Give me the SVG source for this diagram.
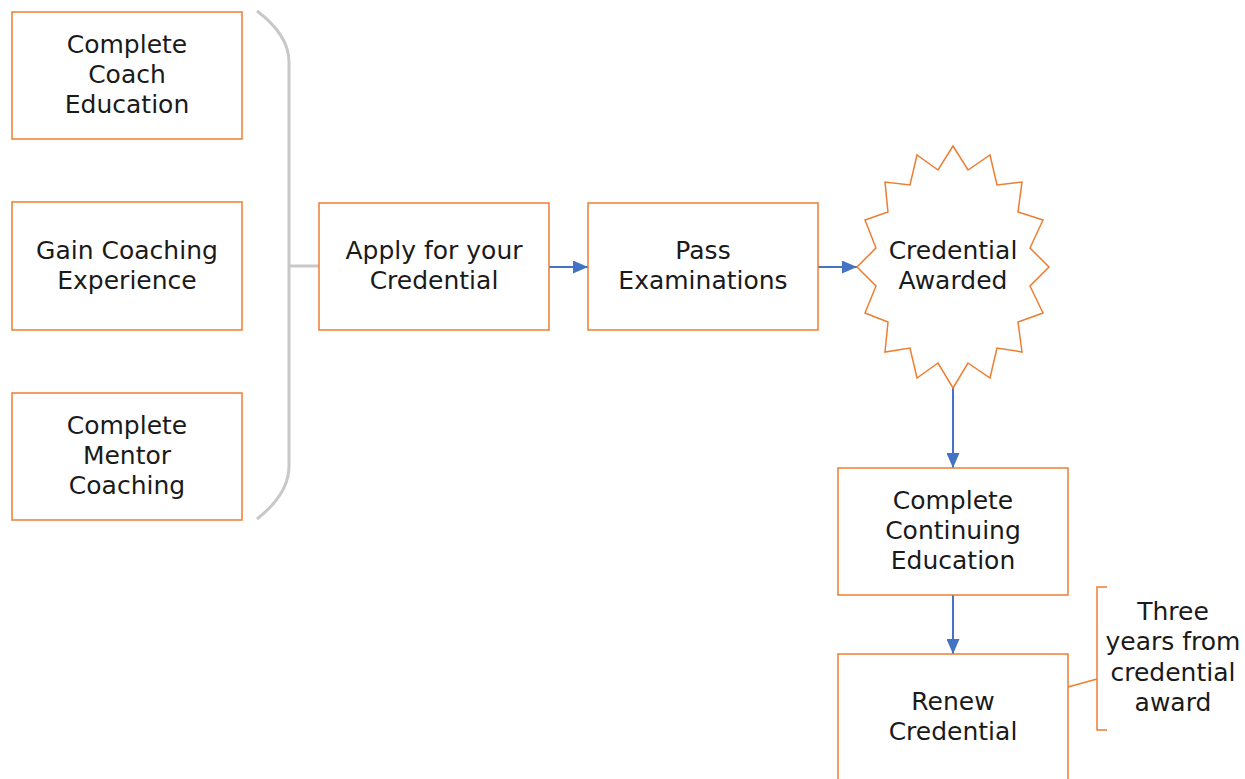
<svg xmlns="http://www.w3.org/2000/svg" width="1245" height="779" viewBox="0 0 1245 779">
<style>
.box{fill:#fff;stroke:#ED7D31;stroke-width:1.5}
.t{font-family:"DejaVu Sans","Noto Sans",sans-serif;font-size:25px;fill:#1a1a1a;text-anchor:middle}
.con{fill:none;stroke:#4472C4;stroke-width:2}
.brace{fill:none;stroke:#C8C8C8;stroke-width:3}
.call{fill:none;stroke:#ED7D31;stroke-width:1.5}
</style>
<defs>
<marker id="ah" viewBox="0 0 15 13" refX="15" refY="6.5" markerWidth="7.5" markerHeight="6.5" orient="auto" markerUnits="strokeWidth">
<path d="M0,0 L15,6.5 L0,13 z" fill="#4472C4"/>
</marker>
</defs>
<rect width="1245" height="779" fill="#fff"/>
<g id="brace">
<path class="brace" d="M257,11 Q289,35 289,62 L289,466 Q289,494 257,519"/>
<path class="brace" d="M289,266 L319,266"/>
</g>
<g id="connectors">
<path class="con" d="M549,267 L588,267" marker-end="url(#ah)"/>
<path class="con" d="M818,267 L857,267" marker-end="url(#ah)"/>
<path class="con" d="M953,388 L953,468" marker-end="url(#ah)"/>
<path class="con" d="M953,595 L953,654" marker-end="url(#ah)"/>
</g>
<g id="n1">
<rect class="box" x="12" y="12" width="230" height="127"/>
<text class="t" x="127" y="53">Complete</text>
<text class="t" x="127" y="83">Coach</text>
<text class="t" x="127" y="113">Education</text>
</g>
<g id="n2">
<rect class="box" x="12" y="202" width="230" height="128"/>
<text class="t" x="127" y="259">Gain Coaching</text>
<text class="t" x="127" y="289">Experience</text>
</g>
<g id="n3">
<rect class="box" x="12" y="393" width="230" height="127"/>
<text class="t" x="127" y="434">Complete</text>
<text class="t" x="127" y="464">Mentor</text>
<text class="t" x="127" y="494">Coaching</text>
</g>
<g id="n4">
<rect class="box" x="319" y="203" width="230" height="127"/>
<text class="t" x="434" y="259">Apply for your</text>
<text class="t" x="434" y="289">Credential</text>
</g>
<g id="n5">
<rect class="box" x="588" y="203" width="230" height="127"/>
<text class="t" x="703" y="259">Pass</text>
<text class="t" x="703" y="289">Examinations</text>
</g>
<g id="n6">
<polygon class="box" points="953,146 968,170 990,155 997,185 1022,182 1018,212 1043,220 1030,248 1049,267 1030,286 1043,313 1018,322 1022,352 997,348 990,378 968,363 953,388 938,363 917,378 910,348 885,352 888,322 865,313 876,286 857,267 876,248 865,220 888,212 885,182 910,185 917,155 938,170"/>
<text class="t" x="953" y="259">Credential</text>
<text class="t" x="953" y="289">Awarded</text>
</g>
<g id="n7">
<rect class="box" x="838" y="468" width="230" height="127"/>
<text class="t" x="953" y="509">Complete</text>
<text class="t" x="953" y="539">Continuing</text>
<text class="t" x="953" y="569">Education</text>
</g>
<g id="n8">
<rect class="box" x="838" y="654" width="230" height="130"/>
<text class="t" x="953" y="710">Renew</text>
<text class="t" x="953" y="740">Credential</text>
</g>
<g id="callout">
<path class="call" d="M1068,687 L1097,679"/>
<path class="call" d="M1107,587 L1097,587 L1097,730 L1107,730"/>
<text class="t" x="1173" y="620">Three</text>
<text class="t" x="1173" y="650">years from</text>
<text class="t" x="1173" y="681">credential</text>
<text class="t" x="1173" y="711">award</text>
</g>
</svg>
